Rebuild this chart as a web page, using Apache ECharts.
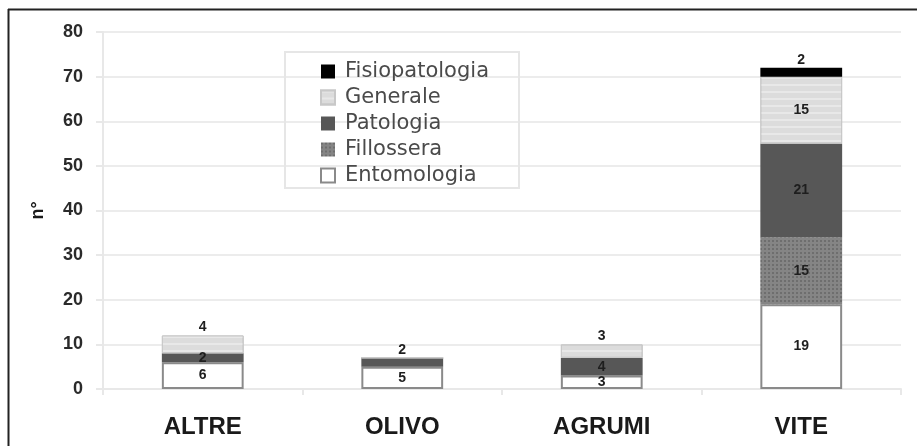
<!DOCTYPE html>
<html>
<head>
<meta charset="utf-8">
<script src="https://cdn.jsdelivr.net/npm/echarts@6/dist/echarts.min.js"></script>
<style>
html,body{margin:0;padding:0;background:#fff;}
#chart{width:917px;height:446px;}
</style>
</head>
<body>
<div id="chart"></div>
<script>
const categories = ['ALTRE', 'OLIVO', 'AGRUMI', 'VITE'];
const yTicks = [0, 10, 20, 30, 40, 50, 60, 70, 80];
const entomologia = [6, 5, 3, 19];
const fillossera = [0, 0, 0, 15];
const patologia = [2, 2, 4, 21];
const generale = [4, 0, 3, 15];
const fisiopatologia = [0, 0, 0, 2];
const legendOrder = ['Fisiopatologia', 'Generale', 'Patologia', 'Fillossera', 'Entomologia'];

const chart = echarts.init(document.getElementById('chart'), null, {renderer: 'canvas'});

// label for the top-most segment of each bar sits above it
const seriesList = [entomologia, fillossera, patologia, generale, fisiopatologia];
function topIndex(ci) {
  let t = -1;
  seriesList.forEach((s, i) => { if (s[ci] > 0) t = i; });
  return t;
}
function makeData(arr, si) {
  return arr.map((v, ci) => {
    if (!v) return {value: 0, label: {show: false}};
    const isTop = topIndex(ci) === si && !(si === 3 && ci === 3);
    return {value: v, label: {show: true, position: isTop ? 'top' : 'inside', distance: 1}};
  });
}
const labelBase = {fontFamily: 'Liberation Sans, Arial', fontWeight: 'bold', fontSize: 14, color: '#1e1e1e'};

function bar(name, arr, si, style) {
  return {
    name, type: 'bar', stack: 'tot', barWidth: '41%',
    data: makeData(arr, si),
    itemStyle: style,
    label: Object.assign({show: true}, labelBase),
    emphasis: {disabled: true}
  };
}

const option = {
  animation: false,
  backgroundColor: '#fff',
  grid: {left: 103, right: 16, top: 32, bottom: 57},
  legend: {
    orient: 'vertical', left: 285, top: 52,
    data: legendOrder,
    icon: 'rect', itemWidth: 14, itemHeight: 14, itemGap: 5,
    padding: [9, 30, 2, 35],
    borderColor: '#e6e6e6', borderWidth: 2,
    textStyle: {fontFamily: 'DejaVu Sans', fontSize: 21, color: '#4a4a4a', padding: [0, 0, 0, 5]}
  },
  xAxis: {
    type: 'category', data: categories,
    axisLine: {show: true, lineStyle: {color: '#e8e8e8', width: 2}},
    axisTick: {show: true, length: 6, lineStyle: {color: '#e8e8e8', width: 2}},
    axisLabel: {fontFamily: 'Liberation Sans, Arial', fontWeight: 'bold', fontSize: 24, color: '#1a1a1a', margin: 26}
  },
  yAxis: {
    type: 'value', min: yTicks[0], max: yTicks[yTicks.length - 1], interval: 10,
    name: 'n°', nameLocation: 'middle', nameGap: 56, nameRotate: 90,
    nameTextStyle: {fontFamily: 'Liberation Sans, Arial', fontWeight: 'bold', fontSize: 18, color: '#1a1a1a'},
    axisLine: {show: true, lineStyle: {color: '#e8e8e8', width: 2}},
    axisTick: {show: true, length: 7, lineStyle: {color: '#e8e8e8', width: 2}},
    splitLine: {show: true, lineStyle: {color: '#ececec', width: 2}},
    axisLabel: {fontFamily: 'Liberation Sans, Arial', fontWeight: 'bold', fontSize: 18, color: '#2a2a2a', margin: 20}
  },
  graphic: [
    {type: 'line', shape: {x1: 8, y1: 9.5, x2: 917, y2: 9.5}, style: {stroke: '#222', lineWidth: 2}, silent: true},
    {type: 'line', shape: {x1: 8.5, y1: 9, x2: 8.5, y2: 446}, style: {stroke: '#222', lineWidth: 2}, silent: true}
  ],
  series: [
    bar('Entomologia', entomologia, 0, {color: '#ffffff', borderColor: '#8a8a8a', borderWidth: 2}),
    bar('Fillossera', fillossera, 1, {color: '#858585',
      decal: {symbol: 'rect', symbolSize: 1, dashArrayX: [2, 2], dashArrayY: [2, 2], color: 'rgba(60,60,60,0.3)'}}),
    bar('Patologia', patologia, 2, {color: '#575757'}),
    bar('Generale', generale, 3, {color: '#dcdcdc', borderColor: '#c8c8c8', borderWidth: 1,
      decal: {symbol: 'rect', symbolSize: 1, dashArrayX: [[1, 0]], dashArrayY: [2, 5], color: 'rgba(255,255,255,0.35)'}}),
    bar('Fisiopatologia', fisiopatologia, 4, {color: '#000000'})
  ]
};
chart.setOption(option);
</script>
</body>
</html>
